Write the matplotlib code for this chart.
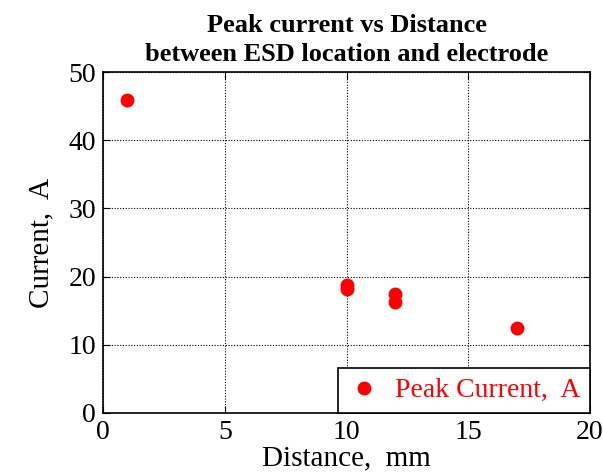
import matplotlib
matplotlib.use("Agg")
import matplotlib.pyplot as plt

# distance (mm) vs peak current (A)
distance_mm = [1, 10, 10, 12, 12, 17]
peak_current = [45.9, 18.2, 18.7, 17.5, 16.3, 12.5]

plt.rcParams['font.family'] = ['Liberation Serif', 'DejaVu Serif']

fig = plt.figure(figsize=(6.03, 4.75), dpi=100)
ax = fig.add_axes([103 / 603, 1 - 413 / 475, 487 / 603, 341 / 475])

ax.plot(distance_mm, peak_current, 'o', color='red', markersize=9,
        label='Peak Current,  A')

ax.set_xlim(0, 20)
ax.set_ylim(0, 50)
ax.set_xticks([0, 5, 10, 15, 20])
ax.set_yticks([0, 10, 20, 30, 40, 50])
ax.grid(True, color='black', linestyle=(0, (1, 1.5)), linewidth=0.8)
ax.tick_params(direction='in', length=5, labelsize=20, top=True, right=True, pad=5)
for s in ax.spines.values():
    s.set_linewidth(1.2)

ax.set_xlabel('Distance,  mm', fontsize=21, labelpad=0)
ax.set_ylabel('Current,  A', fontsize=21, labelpad=10)
ax.set_title('Peak current vs Distance\nbetween ESD location and electrode',
             fontsize=19, fontweight='bold', pad=8, linespacing=1.35)

leg = ax.legend(loc='lower right', fontsize=20, frameon=True, fancybox=False,
                borderaxespad=0, handletextpad=0.5, borderpad=0.35, labelcolor='red',
                handlelength=1.2)
leg.get_frame().set_edgecolor('black')
leg.get_frame().set_linewidth(1.2)
leg.get_frame().set_alpha(1)

fig.savefig('out.png', dpi=100)
